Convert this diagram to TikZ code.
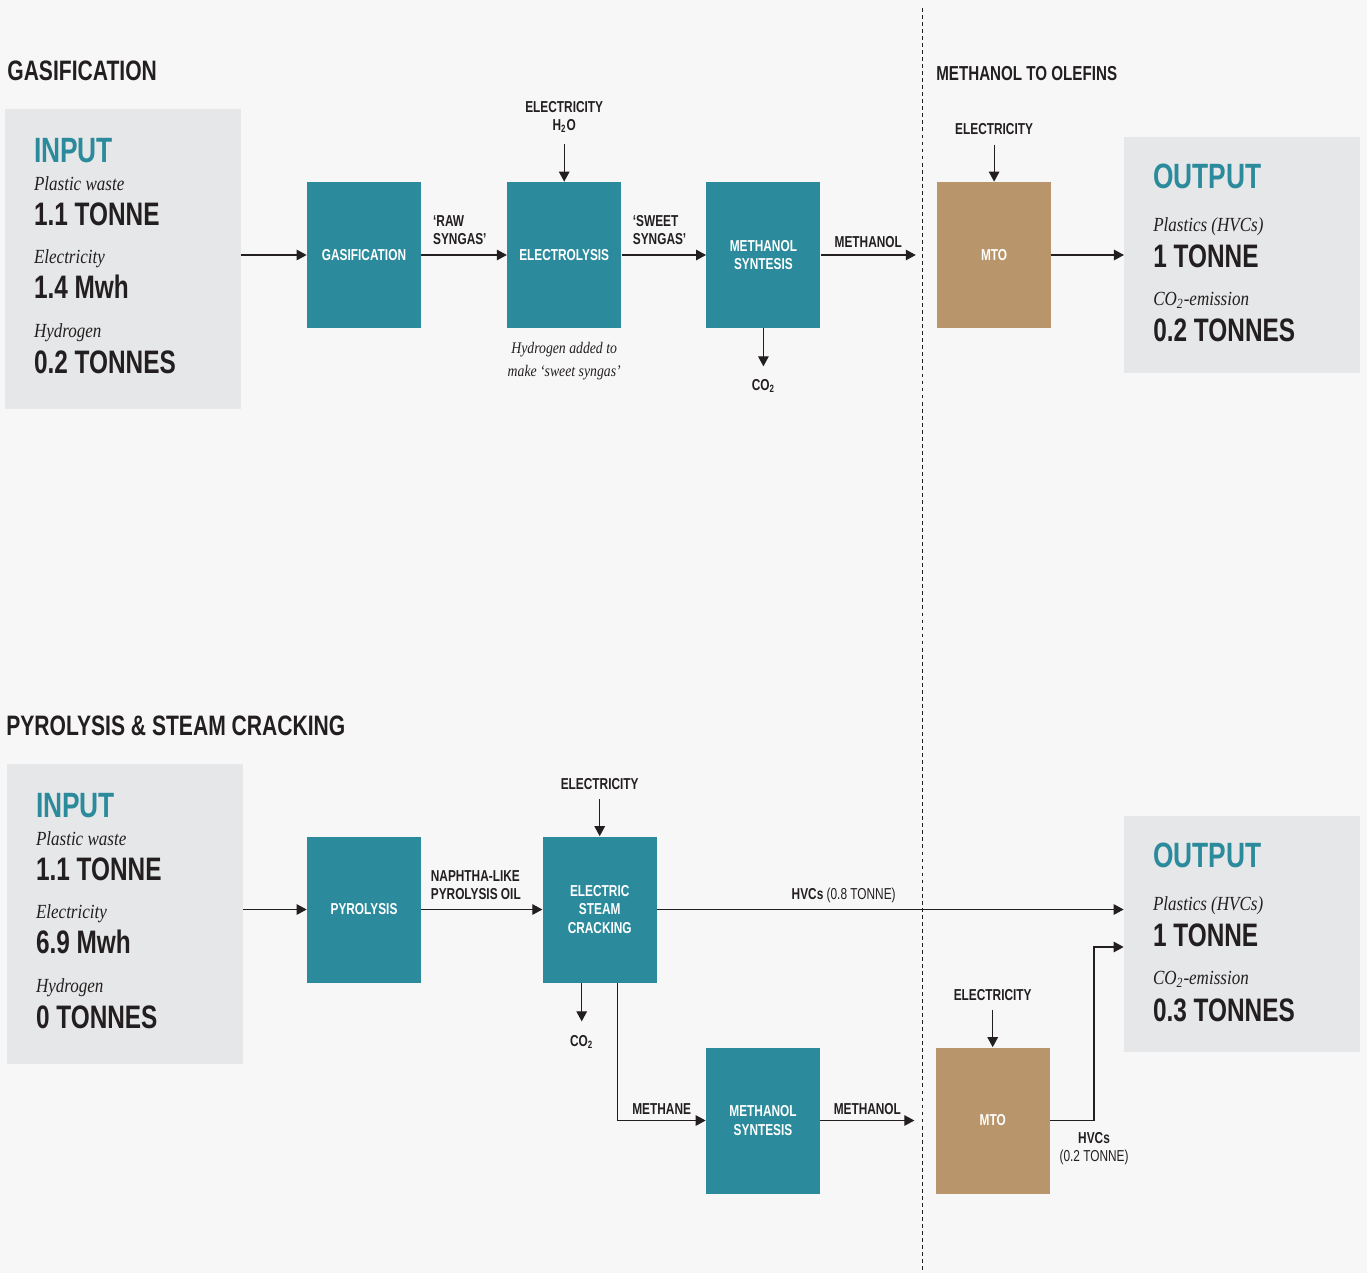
\documentclass[tikz,border=0pt]{standalone}
\usepackage{fontspec}
\setmainfont{Liberation Sans}
\newfontfamily\cond{Liberation Sans}[FakeStretch=0.75]
\newfontfamily\garit{Liberation Serif}[FakeStretch=0.85]
\usetikzlibrary{arrows.meta, positioning}

\definecolor{procteal}{HTML}{2B8A9B}
\definecolor{mtogold}{HTML}{B8956A}
\definecolor{panelgray}{HTML}{E6E7E8}
\definecolor{bggray}{HTML}{F7F7F7}
\definecolor{inkdark}{HTML}{231F20}

\tikzset{
  proc/.style={fill=procteal, minimum width=2.28cm, minimum height=2.92cm, inner sep=0pt,
    text=white, align=center, font=\cond\bfseries\fontsize{9}{10.3}\selectfont},
  mto/.style={proc, fill=mtogold},
  panel/.style={fill=panelgray, minimum width=4.72cm, inner sep=0pt},
  flow/.style={inner sep=0pt, text=inkdark, align=left, font=\cond\bfseries\fontsize{9}{10.3}\selectfont},
  note/.style={inner sep=0pt, text=inkdark, align=center, font=\garit\itshape\fontsize{9.2}{13}\selectfont},
  title/.style={anchor=west, inner sep=0pt, text=inkdark, font=\cond\bfseries\fontsize{16}{19}\selectfont},
  head/.style={anchor=base west, inner sep=0pt, text=procteal, font=\cond\bfseries\fontsize{20}{24}\selectfont},
  what/.style={anchor=base west, inner sep=0pt, text=inkdark, font=\garit\itshape\fontsize{11.4}{13}\selectfont},
  amount/.style={anchor=base west, inner sep=0pt, text=inkdark, font=\cond\bfseries\fontsize{18.5}{22}\selectfont},
  arr/.style={draw=inkdark, line width=0.7pt, -{Triangle[length=5.7pt,width=6pt]}},
  divider/.style={draw=inkdark, line width=0.55pt, dash pattern=on 2.2pt off 1.8pt}
}

\begin{document}
\begin{tikzpicture}
  \fill[bggray] (0,0) rectangle (27.34,-25.46);
  \useasboundingbox (0,0) rectangle (27.34,-25.46);

  % gasification route
  \node[title] (t1) at (0.14,-1.42) {GASIFICATION};
  \node[title, font=\cond\bfseries\fontsize{11.5}{14}\selectfont] (t3) at (18.72,-1.48) {METHANOL TO OLEFINS};
  \node[panel, minimum height=6cm] (in1) at (2.46,-5.18) {};
  \node[proc] (gas) at (7.28,-5.10) {GASIFICATION};
  \node[proc, right=1.71cm of gas] (elys) {ELECTROLYSIS};
  \node[proc, right=1.69cm of elys] (msyn1) {METHANOL\\SYNTESIS};
  \node[mto, right=2.32cm of msyn1] (mto1) {MTO};
  \node[panel, minimum height=4.72cm, right=1.45cm of mto1] (out1) {};

  \node[flow, align=center, above=0.98cm of elys] (el1) {ELECTRICITY\\H\textsubscript{2}O};
  \node[flow, above=0.93cm of mto1] (el2) {ELECTRICITY};
  \node[flow, below=1.01cm of msyn1] (co2a) {CO\textsubscript{2}};
  \node[note, below=0.28cm of elys] (h2note) {Hydrogen added to\\make ‘sweet syngas’};
  \coordinate[left=0.42cm of mto1.west] (mto1in);

  \draw[arr] (in1.east |- gas.west) -- (gas.west);
  \draw[arr] (gas) -- node[flow, above=0.19cm, pos=0.45] (raw) {‘RAW\\SYNGAS’} (elys);
  \draw[arr] (elys) -- node[flow, above=0.19cm, pos=0.45] (sweet) {‘SWEET\\SYNGAS’} (msyn1);
  \draw[arr] (msyn1) -- node[flow, above=0.13cm] (meol1) {METHANOL} (mto1in);
  \draw[arr] (mto1) -- (out1.west |- mto1.east);
  \draw[arr, shorten <=0.22cm] (el1) -- (elys);
  \draw[arr, shorten <=0.19cm] (el2) -- (mto1);
  \draw[arr, shorten >=0.25cm] (msyn1) -- (co2a);

  \begin{scope}[shift={(in1.north west)}]
    \node[head] (in1a) at (0.58,-1.074) {INPUT};
    \node[what] (in1b) at (0.58,-1.634) {Plastic waste};
    \node[amount] (in1c) at (0.58,-2.334) {1.1 TONNE};
    \node[what] (in1d) at (0.58,-3.10) {Electricity};
    \node[amount] (in1e) at (0.58,-3.806) {1.4 Mwh};
    \node[what] (in1f) at (0.58,-4.574) {Hydrogen};
    \node[amount] (in1g) at (0.58,-5.30) {0.2 TONNES};
  \end{scope}
  \begin{scope}[shift={(out1.north west)}]
    \node[head] (out1a) at (0.58,-1.03) {OUTPUT};
    \node[what] (out1b) at (0.58,-1.90) {Plastics (HVCs)};
    \node[amount] (out1c) at (0.58,-2.614) {1 TONNE};
    \node[what] (out1d) at (0.58,-3.38) {CO\textsubscript{2}-emission};
    \node[amount] (out1e) at (0.58,-4.10) {0.2 TONNES};
  \end{scope}

  % divider
  \coordinate (dtop) at (18.44,-0.16);
  \coordinate (dbot) at (18.44,-25.46);
  \draw[divider] (dtop) -- (dbot);

  % pyrolysis route
  \node[title] (t2) at (0.12,-14.52) {PYROLYSIS \& STEAM CRACKING};
  \node[panel, minimum height=6cm] (in2) at (2.50,-18.28) {};
  \node[proc] (pyr) at (7.28,-18.19) {PYROLYSIS};
  \node[proc, right=2.42cm of pyr] (esc) {ELECTRIC\\STEAM\\CRACKING};
  \node[proc] (msyn2) at (15.26,-22.41) {METHANOL\\SYNTESIS};
  \node[mto, right=2.30cm of msyn2] (mto2) {MTO};
  \node[panel, minimum height=4.72cm] (out2) at (24.84,-18.68) {};

  \node[flow, above=0.93cm of esc] (el3) {ELECTRICITY};
  \node[flow, above=0.93cm of mto2] (el4) {ELECTRICITY};
  \node[flow, below=1.05cm of esc, xshift=-0.36cm] (co2b) {CO\textsubscript{2}};
  \coordinate[left=0.42cm of mto2.west] (mto2in);

  \draw[arr] (in2.east |- pyr.west) -- (pyr.west);
  \draw[arr] (pyr) -- node[flow, above=0.19cm, pos=0.45] (naph) {NAPHTHA-LIKE\\PYROLYSIS OIL} (esc);
  \draw[arr] (esc) -- node[flow, above=0.12cm, pos=0.4] (hvc8) {HVCs \mdseries(0.8 TONNE)} (out2.west |- esc.east);
  \draw[arr, shorten <=0.19cm] (el3) -- (esc);
  \draw[arr, shorten <=0.19cm] (el4) -- (mto2);
  \draw[arr, shorten >=0.28cm] (co2b.north |- esc.south) -- (co2b);
  \draw[arr] ([xshift=0.36cm]esc.south) |- node[flow, pos=0.75, above=0.1cm] (meth) {METHANE} (msyn2);
  \draw[arr] (msyn2) -- node[flow, above=0.11cm] (meol2) {METHANOL} (mto2in);
  \draw[arr] (mto2.east) -- ++(0.88,0) node[flow, below=0.23cm, align=center] (hvc2) {HVCs\\\mdseries(0.2 TONNE)} |- ([yshift=-0.26cm]out2.west);

  \begin{scope}[shift={(in2.north west)}]
    \node[head] (in2a) at (0.58,-1.074) {INPUT};
    \node[what] (in2b) at (0.58,-1.634) {Plastic waste};
    \node[amount] (in2c) at (0.58,-2.334) {1.1 TONNE};
    \node[what] (in2d) at (0.58,-3.10) {Electricity};
    \node[amount] (in2e) at (0.58,-3.806) {6.9 Mwh};
    \node[what] (in2f) at (0.58,-4.574) {Hydrogen};
    \node[amount] (in2g) at (0.58,-5.30) {0 TONNES};
  \end{scope}
  \begin{scope}[shift={(out2.north west)}]
    \node[head] (out2a) at (0.58,-1.046) {OUTPUT};
    \node[what] (out2b) at (0.58,-1.90) {Plastics (HVCs)};
    \node[amount] (out2c) at (0.58,-2.614) {1 TONNE};
    \node[what] (out2d) at (0.58,-3.38) {CO\textsubscript{2}-emission};
    \node[amount] (out2e) at (0.58,-4.114) {0.3 TONNES};
  \end{scope}
\end{tikzpicture}
\end{document}
